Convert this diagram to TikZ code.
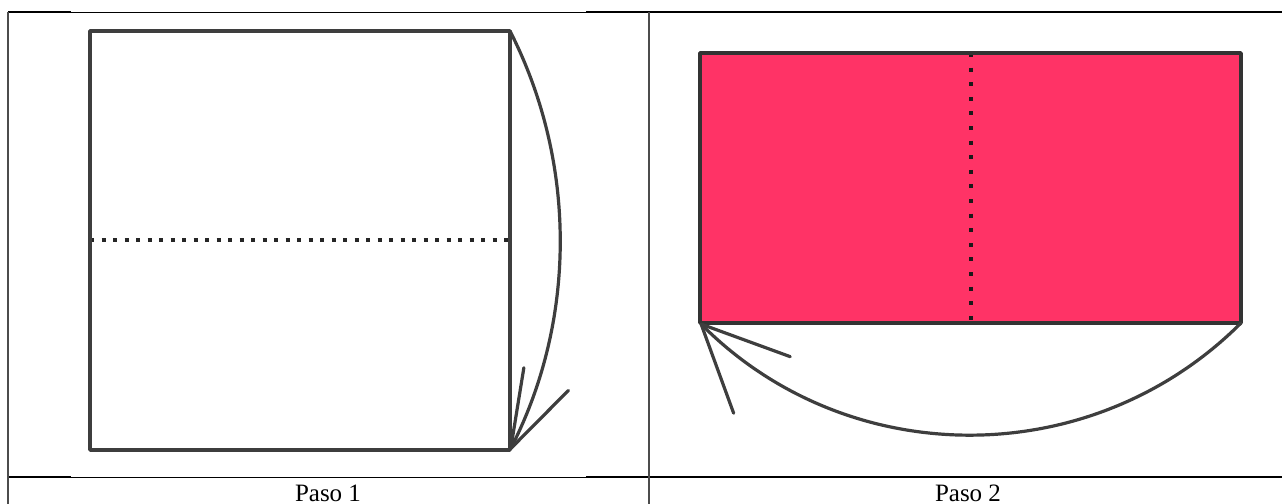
\documentclass[tikz,border=0pt]{standalone}
\usepackage{fontspec}
\setmainfont{Liberation Serif}
\usetikzlibrary{arrows.meta}
\definecolor{sheet}{RGB}{255,51,102}
\definecolor{ink}{RGB}{62,62,62}

\begin{document}
\begin{tikzpicture}[x=0.5pt, y=-0.5pt,
  font=\fontsize{12.5}{15}\selectfont,
  rule/.style={line width=#1, draw=black},
  rule/.default=0.5pt,
  side/.style={line width=1.7pt, draw=ink, line cap=round, line join=round},
  fold/.style={line width=1.9pt, draw=black!85, dash pattern=on 2pt off #1},
  fold/.default=3.75pt,
  turn/.style={line width=1.6pt, draw=ink, line cap=round,
               -{Straight Barb[length=#1, round]}},
  turn/.default=36pt]
 \useasboundingbox (0,0) rectangle (1282,504);
 % table frame
 \draw[rule] (8,12) -- (1282,12);
 \draw[rule] (8,477) -- (1282,477);
 \draw[rule=1pt] (8,12) -- (71,12) (586,12) -- (1282,12);
 \draw[rule=1pt] (8,477) -- (71,477) (586,477) -- (1282,477);
 \draw[rule=0.6pt, draw=black!70] (8,12) -- (8,504);
 \draw[rule=0.6pt, draw=black!70] (649,12) -- (649,504);
 % paso 1: square folded top onto bottom
 \coordinate (a1) at (90,31);
 \coordinate (b1) at (510,31);
 \coordinate (c1) at (510,450);
 \coordinate (d1) at (90,450);
 \coordinate (l1) at (90,240);
 \coordinate (r1) at (510,240);
 \draw[fold] (l1) -- (r1);
 \draw[side] (a1) -- (b1) -- (c1) -- (d1) -- cycle;
 \draw[turn={39pt, width=25pt}] (b1) to[bend left=27, looseness=0.9] (c1);
 % paso 2: rectangle folded right onto left
 \coordinate (a2) at (700,53);
 \coordinate (b2) at (1241,53);
 \coordinate (c2) at (1241,323);
 \coordinate (d2) at (700,323);
 \coordinate (t2) at (971,53);
 \coordinate (m2) at (971,323);
 \fill[sheet] (a2) rectangle (c2);
 \draw[fold=5.3pt, line width=2.2pt, draw=black!90] (t2) -- (m2);
 \draw[side, draw=black!80] (a2) -- (b2) -- (c2) -- (d2) -- cycle;
 \draw[turn={43pt, width=40pt}] (c2) to[bend left=45] (d2);
 % captions
 \node[anchor=base] (p1) at (328,501) {Paso 1};
 \node[anchor=base] (p2) at (968,501) {Paso 2};
\end{tikzpicture}
\end{document}
